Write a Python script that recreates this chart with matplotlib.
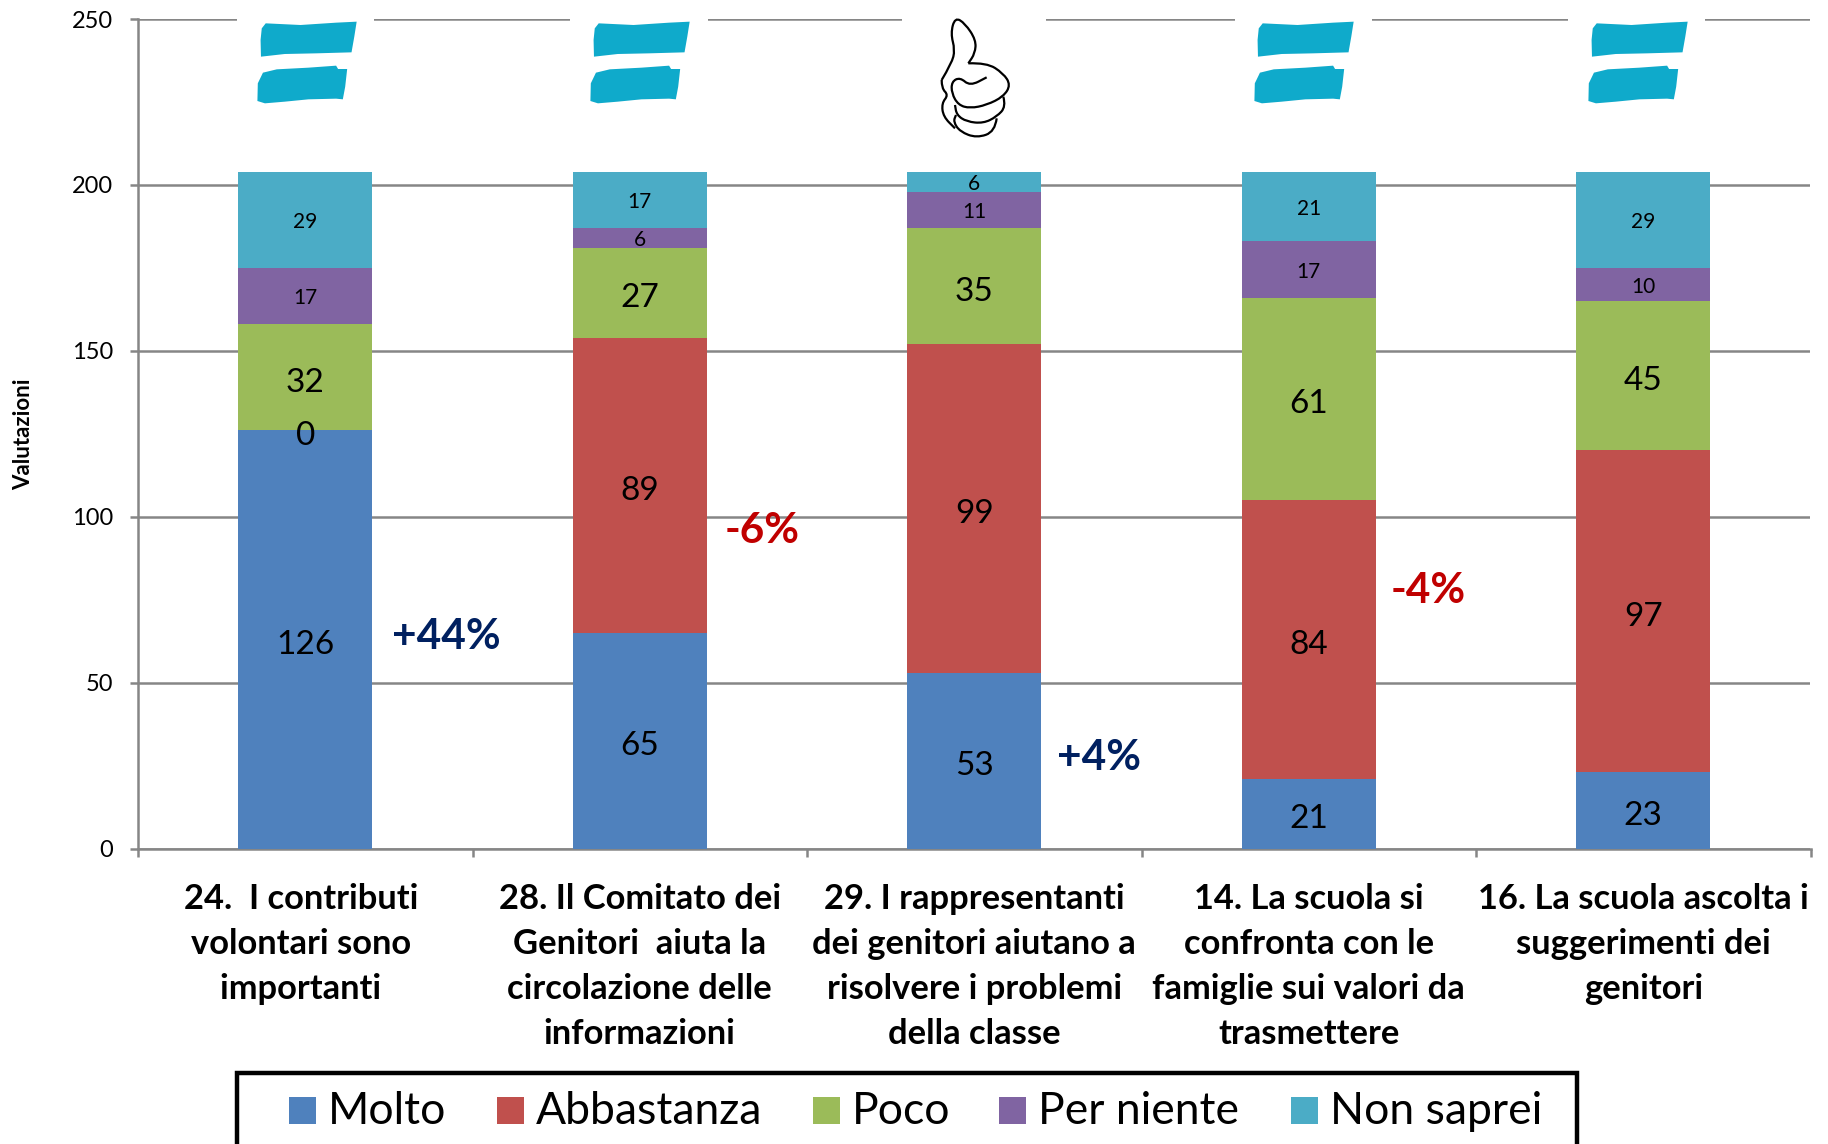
import numpy as np
import matplotlib
matplotlib.use('Agg')
import matplotlib.pyplot as plt
from matplotlib.path import Path
from matplotlib.patches import PathPatch, Polygon, Rectangle

plt.rcParams['font.family'] = ['Lato', 'DejaVu Sans']

categories = ['24.  I contributi \nvolontari sono \nimportanti ',
              '28. Il Comitato dei\nGenitori  aiuta la\ncircolazione delle\ninformazioni',
              '29. I rappresentanti\ndei genitori aiutano a\nrisolvere i problemi\ndella classe',
              '14. La scuola si\nconfronta con le\nfamiglie sui valori da\ntrasmettere',
              '16. La scuola ascolta i\nsuggerimenti dei\ngenitori']
series_names = ['Molto', 'Abbastanza', 'Poco', 'Per niente', 'Non saprei']
molto = [126, 65, 53, 21, 23]
abbastanza = [0, 89, 99, 84, 97]
poco = [32, 27, 35, 61, 45]
per_niente = [17, 6, 11, 17, 10]
non_saprei = [29, 17, 6, 21, 29]
colors = ['#4F81BD', '#C0504D', '#9BBB59', '#8064A2', '#4BACC6']
label_sizes = [24, 24, 24, 15, 15]
label_drop = [4.0, 4.0, 4.0, 1.7, 1.7]
yticks = [0, 50, 100, 150, 200, 250]

W, H = 1828, 1144
fig = plt.figure(figsize=(W / 100, H / 100), dpi=100)
ax = fig.add_axes([138 / W, (H - 848.5) / H, (1810.5 - 138) / W, (848.5 - 19) / H])

#stacked bars
x = np.arange(len(categories))
bottom = np.zeros(len(categories))
for vals, name, col, fs, drop in zip([molto, abbastanza, poco, per_niente, non_saprei], series_names, colors, label_sizes, label_drop):
    ax.bar(x, vals, 0.4, bottom=bottom, color=col, label=name, zorder=3)
    for xi, b, v in zip(x, bottom, vals):
        ax.annotate(str(v), (xi, b + v / 2), xytext=(0, -drop), textcoords='offset points',
                    ha='center', va='center', fontsize=fs, color='black', zorder=4)
    bottom = bottom + np.array(vals)

ax.set_xlim(-0.5, 4.5)
ax.set_ylim(0, 250)
ax.set_yticks(yticks)
ax.tick_params(axis='y', labelsize=17, length=6, width=1.8, color='#868686', pad=12)
ax.set_xticks(np.arange(-0.5, 5))
ax.set_xticklabels([])
ax.tick_params(axis='x', which='major', length=6, width=1.8, color='#868686')
ax.set_xticks(x, minor=True)
ax.set_xticklabels(categories, minor=True, fontsize=24.8, fontweight='bold', linespacing=1.5, va='top')
ax.tick_params(axis='x', which='minor', length=0, pad=25)
ax.grid(axis='y', color='#868686', linewidth=1.8, zorder=1)
ax.set_axisbelow(True)
for s in ['top', 'right']:
    ax.spines[s].set_visible(False)
for s in ['left', 'bottom']:
    ax.spines[s].set_color('#868686')
    ax.spines[s].set_linewidth(1.8)

#overlay in picture pixels for the pasted bits
ov = fig.add_axes([0, 0, 1, 1], zorder=10)
ov.set_xlim(0, W)
ov.set_ylim(H, 0)
ov.axis('off')
ov.patch.set_alpha(0)

fig.text(24 / W, 1 - 434 / H, 'Valutazioni', rotation=90, ha='center', va='center', fontsize=16, fontweight='bold')

#white boxes behind the icons hide the top gridline, a thin part of it stays above the equals signs
ov.add_patch(Rectangle((902, 14), 1046 - 902, 12, color='white', lw=0))
for x0, x1 in [(237, 374), (570, 708), (1235, 1372), (1568, 1705)]:
    ov.add_patch(Rectangle((x0, 18.7), x1 - x0, 6, color='white', lw=0))

#brush strokes of the equals icon
stroke1 = np.array([(672, 70), (760, 75), (850, 68), (902, 65), (896, 110), (889, 157), (800, 160), (720, 162), (660, 170), (659, 120), (662, 85)], dtype=float)
stroke2 = np.array([(665, 218), (700, 208), (780, 203), (850, 197), (855, 207), (878, 207), (873, 260), (867, 298), (850, 296), (780, 298), (720, 305), (670, 310), (651, 303), (652, 250)], dtype=float)
for s in [stroke1, stroke2]:
    s[:, 0] = s[:, 0] / 2.529 - 257
    s[:, 1] = s[:, 1] / 3
for ix in [257, 590, 1254, 1588]:
    ov.add_patch(Polygon(stroke1 + [ix, 0], closed=True, color='#0FAACB', lw=0))
    ov.add_patch(Polygon(stroke2 + [ix, 0], closed=True, color='#0FAACB', lw=0))


def smooth(points):
    #quadratic curve through the midpoints of the hand drawn points
    pts = np.array(points, dtype=float)
    pts = np.column_stack([860 + pts[:, 0] / 3, pts[:, 1] / 3])
    verts = [pts[0]]
    codes = [Path.MOVETO]
    for i in range(1, len(pts) - 1):
        verts += [pts[i], (pts[i] + pts[i + 1]) / 2]
        codes += [Path.CURVE3, Path.CURVE3]
    verts += [pts[-1]]
    codes += [Path.LINETO]
    return Path(verts, codes)


thumb = [[(245, 240), (275, 190), (285, 150), (272, 100), (285, 52), (315, 70), (348, 120), (345, 160), (325, 190)],
         [(325, 190), (380, 188), (430, 220), (452, 255), (430, 290), (380, 315), (330, 325), (295, 315), (275, 280), (275, 245), (300, 232), (330, 258), (380, 232)],
         [(430, 290), (438, 320), (410, 350), (370, 370), (320, 365), (290, 345), (285, 315)],
         [(410, 355), (405, 395), (350, 414), (300, 395), (280, 365), (288, 345)],
         [(245, 240), (245, 265), (265, 285), (245, 310), (250, 350), (285, 385)]]
for t in thumb:
    ov.add_patch(PathPatch(smooth(t), fc='none', ec='black', lw=1.6))

#change percentages beside the bars
changes = ['+44%', '-6%', '+4%', '-4%']
change_colors = ['#002060', '#C00000', '#002060', '#C00000']
change_xy = [(446, 637), (762, 531), (1099, 758), (1428, 591)]
for txt, col, (tx, ty) in zip(changes, change_colors, change_xy):
    ov.text(tx, ty, txt, color=col, fontsize=30.5, fontweight='bold', ha='center', va='center')

#legend box runs off the bottom of the picture
ov.add_patch(Rectangle((237, 1073), 1340, 120, fc='white', ec='black', lw=3.2, clip_on=False))
swatch_x = [289, 497, 813, 999, 1291]
text_x = [328, 536, 852, 1038, 1330]
for name, col, sx, tx in zip(series_names, colors, swatch_x, text_x):
    ov.add_patch(Rectangle((sx, 1097), 27, 27, color=col, lw=0))
    ov.text(tx, 1111, name, fontsize=32, ha='left', va='center')

fig.savefig('out.png', dpi=100)
